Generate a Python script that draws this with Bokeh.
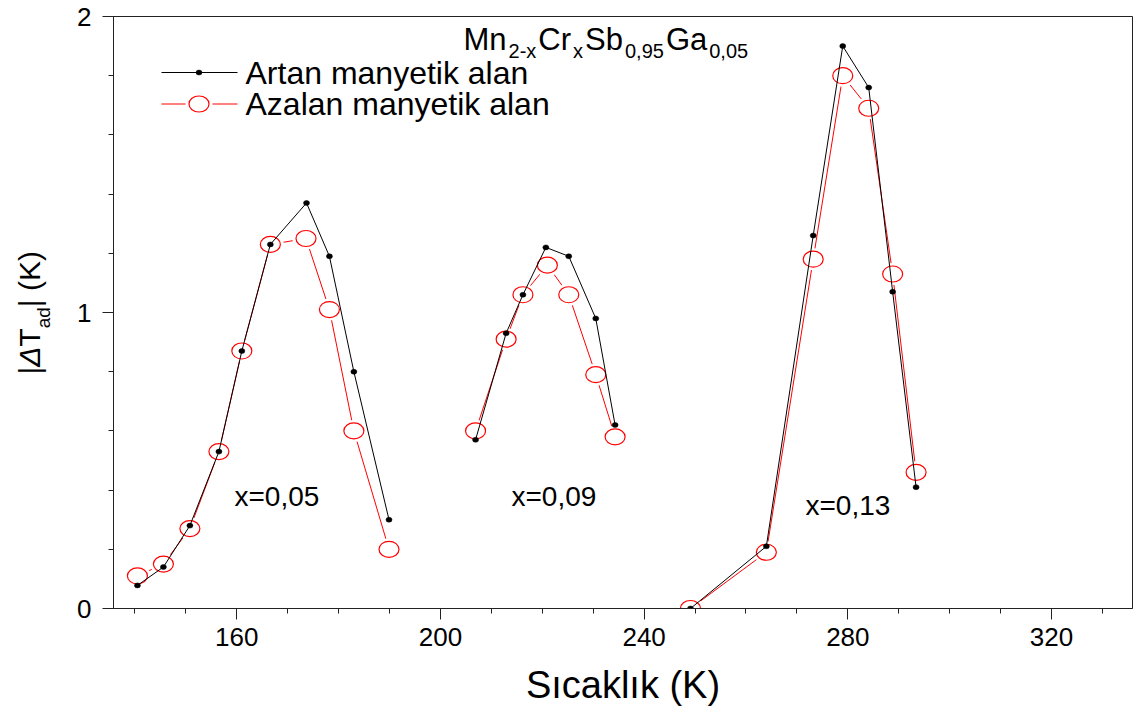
from math import pi

from bokeh.plotting import figure
from bokeh.layouts import row
from bokeh.models import Range1d, Label, FixedTicker
from bokeh.embed import file_html
from bokeh.resources import INLINE

FONT = "Liberation Sans"

# ---------------- data: |dT_ad| (K) vs temperature (K) ----------------
# "Artan" = increasing magnetic field, "Azalan" = decreasing magnetic field
t_005_inc = [140.5, 145.6, 150.8, 156.5, 161.0, 166.6, 173.7, 178.2, 183.0, 189.9]
dt_005_inc = [0.078, 0.14, 0.28, 0.53, 0.87, 1.23, 1.37, 1.19, 0.80, 0.30]
t_005_dec = [140.5, 145.6, 150.8, 156.5, 161.0, 166.6, 173.6, 178.2, 183.0, 189.9]
dt_005_dec = [0.11, 0.15, 0.27, 0.53, 0.87, 1.23, 1.25, 1.01, 0.60, 0.20]

t_009_inc = [206.9, 212.9, 216.2, 220.7, 225.2, 230.5, 234.3]
dt_009_inc = [0.57, 0.93, 1.06, 1.22, 1.19, 0.98, 0.62]
t_009_dec = [206.9, 212.9, 216.2, 221.0, 225.2, 230.5, 234.3]
dt_009_dec = [0.60, 0.91, 1.06, 1.16, 1.06, 0.79, 0.58]

t_013_inc = [249.1, 264.0, 273.2, 279.0, 284.1, 288.8, 293.4]
dt_013_inc = [0.0, 0.21, 1.26, 1.90, 1.76, 1.07, 0.41]
t_013_dec = [249.1, 264.0, 273.2, 279.0, 284.1, 288.8, 293.4]
dt_013_dec = [0.0, 0.19, 1.18, 1.80, 1.69, 1.13, 0.46]

composition_labels = ["x=0,05", "x=0,09", "x=0,13"]
series_labels = ["Artan manyetik alan", "Azalan manyetik alan"]

x_major_ticks = [160, 200, 240, 280, 320]
x_minor_ticks = list(range(140, 340, 10))
y_major_ticks = [0, 1, 2]
y_minor_ticks = [round(0.2 * i, 1) for i in range(11)]

# ---------------- layout ----------------
W, H = 1133, 708
STRIP = 62                                   # left strip holding the rotated y title
FL, FR, FT, FB = 113, 1132, 16, 608          # frame edges in page pixels
X0, X1 = 135.8, 335.9
Y0, Y1 = 0.0, 2.0
BASE_SHIFT = 0.33                            # baseline correction, fraction of font size


def dx(px):
    """page x pixel -> data x"""
    return X0 + (px - FL) * (X1 - X0) / (FR - FL)


def dy(py):
    """page y pixel -> data y"""
    return Y0 + (FB - py) * (Y1 - Y0) / (FB - FT)


# Arial / Liberation Sans advance widths (1/1000 em)
ADV = {'|': 260, 'Δ': 668, 'T': 611, 'a': 556, 'd': 556, ' ': 278, '(': 333,
       'K': 667, ')': 333, 'M': 833, 'n': 556, '2': 556, '-': 333, 'x': 500,
       'C': 722, 'r': 333, 'S': 667, 'b': 556, '0': 556, ',': 278, '9': 556,
       '5': 556, 'G': 778}


def text_width(s, size):
    return sum(ADV.get(c, 556) for c in s) * size / 1000.0


def put_text(fig, px, py, text, size, **kw):
    """horizontal label whose alphabetic baseline sits at page pixel (px, py)"""
    fig.add_layout(Label(x=dx(px), y=dy(py - BASE_SHIFT * size), text=text,
                         text_font=FONT, text_font_size=f"{size}px",
                         text_color="black", text_align="left",
                         text_baseline="alphabetic", **kw))


p = figure(width=W - STRIP, height=H,
           x_range=Range1d(X0, X1), y_range=Range1d(Y0, Y1),
           output_backend="svg", toolbar_location=None,
           min_border_left=FL - STRIP, min_border_right=W - FR,
           min_border_top=FT, min_border_bottom=H - FB)
p.background_fill_color = "white"
p.border_fill_color = "white"
p.outline_line_color = "#222222"
p.outline_line_width = 1
p.xgrid.visible = False
p.ygrid.visible = False

# ---------------- axes ----------------
p.xaxis.ticker = FixedTicker(ticks=x_major_ticks, minor_ticks=x_minor_ticks)
p.yaxis.ticker = FixedTicker(ticks=y_major_ticks, minor_ticks=y_minor_ticks)
for ax in (p.xaxis[0], p.yaxis[0]):
    ax.axis_line_color = "#222222"
    ax.major_tick_line_color = "#222222"
    ax.minor_tick_line_color = "#222222"
    ax.major_tick_out = 11
    ax.major_tick_in = 0
    ax.minor_tick_out = 5
    ax.minor_tick_in = 0
    ax.major_label_text_font = FONT
    ax.major_label_text_font_size = "26px"
    ax.major_label_text_color = "black"
p.yaxis.major_label_standoff = 11
p.xaxis.major_label_standoff = 8
p.xaxis.axis_label = "Sıcaklık (K)"
p.xaxis.axis_label_text_font = FONT
p.xaxis.axis_label_text_font_size = "38px"
p.xaxis.axis_label_text_font_style = "normal"
p.xaxis.axis_label_text_color = "black"
p.xaxis.axis_label_standoff = 15

# ---------------- series ----------------
groups = [
    (t_005_inc, dt_005_inc, t_005_dec, dt_005_dec),
    (t_009_inc, dt_009_inc, t_009_dec, dt_009_dec),
    (t_013_inc, dt_013_inc, t_013_dec, dt_013_dec),
]

for ti, yi, td, yd in groups:
    # decreasing field: red line with open circles (line stops short of each circle)
    p.line(td, yd, line_color="red", line_width=1)
    p.ellipse(td, yd, width=27, height=22, width_units="screen", height_units="screen",
              fill_color="white", line_color=None)
    p.ellipse(td, yd, width=20, height=16, width_units="screen", height_units="screen",
              fill_color=None, line_color="red", line_width=1.2)
    # increasing field: thin black line with small filled dots
    p.line(ti, yi, line_color="black", line_width=1)
    p.ellipse(ti, yi, width=6, height=5, width_units="screen", height_units="screen",
              fill_color="black", line_color="black", line_width=0.5)

# ---------------- legend ----------------
LEG_X0, LEG_X1, LEG_XM = 161, 237, 198.5
LEG_ROWS = [72, 103.5]
p.segment(x0=[dx(LEG_X0)], y0=[dy(LEG_ROWS[0])], x1=[dx(LEG_X1)], y1=[dy(LEG_ROWS[0])],
          line_color="black", line_width=1)
p.ellipse([dx(LEG_XM)], [dy(LEG_ROWS[0])], width=6, height=5,
          width_units="screen", height_units="screen",
          fill_color="black", line_color="black", line_width=0.5)
p.segment(x0=[dx(LEG_X0)], y0=[dy(LEG_ROWS[1])], x1=[dx(LEG_X1)], y1=[dy(LEG_ROWS[1])],
          line_color="red", line_width=1)
p.ellipse([dx(LEG_XM)], [dy(LEG_ROWS[1])], width=27, height=22,
          width_units="screen", height_units="screen", fill_color="white", line_color=None)
p.ellipse([dx(LEG_XM)], [dy(LEG_ROWS[1])], width=20, height=16,
          width_units="screen", height_units="screen",
          fill_color=None, line_color="red", line_width=1.2)
for label, base in zip(series_labels, [83, 114]):
    put_text(p, 245, base, label, 32)

# ---------------- formula title (with subscripts) ----------------
formula = [("Mn", False), ("2-x", True), ("Cr", False), ("x", True),
           ("Sb", False), ("0,95", True), ("Ga", False), ("0,05", True)]
MAIN, SUB = 31, 20
cx = 463
for s, is_sub in formula:
    size = SUB if is_sub else MAIN
    put_text(p, cx, 57 if is_sub else 49, s, size)
    cx += text_width(s, size) + 2

# ---------------- composition annotations ----------------
for label, (lx, base) in zip(composition_labels, [(234, 505), (511, 505), (805, 514)]):
    put_text(p, lx, base, label, 28)

# ---------------- left strip: rotated y-axis title |ΔT_ad| (K) ----------------
# the strip's frame shares the main frame's top/bottom (16..608 px); its ranges
# are set so that data coordinates equal page pixels (y grows downwards)
strip = figure(width=STRIP, height=H, x_range=Range1d(0, STRIP), y_range=Range1d(FB, FT),
               x_axis_type=None, y_axis_type=None,
               output_backend="svg", toolbar_location=None,
               min_border_left=0, min_border_right=0,
               min_border_top=FT, min_border_bottom=H - FB)
strip.outline_line_color = None
strip.background_fill_color = "white"
strip.border_fill_color = "white"
strip.xgrid.visible = False
strip.ygrid.visible = False

YL_MAIN, YL_SUB = 30, 19
ylabel = [("|", False, "normal"), ("Δ", False, "italic"), ("T", False, "normal"),
          ("ad", True, "normal"), ("| (K)", False, "normal")]
cy = 374                                     # lower end of the title
for s, is_sub, style in ylabel:
    size = YL_SUB if is_sub else YL_MAIN
    base_x = 50 if is_sub else 39            # baseline of the rotated text
    w = text_width(s, size)
    # each piece is centred on its own box; rotation is about that centre
    strip.add_layout(Label(x=base_x - 0.35 * size, y=cy - w / 2, text=s, text_font=FONT,
                           text_font_size=f"{size}px", text_font_style=style,
                           text_color="black", angle=pi / 2, angle_units="rad",
                           text_align="center", text_baseline="middle"))
    cy -= w

open("out.html", "w").write(file_html(row(strip, p, spacing=0), INLINE))
